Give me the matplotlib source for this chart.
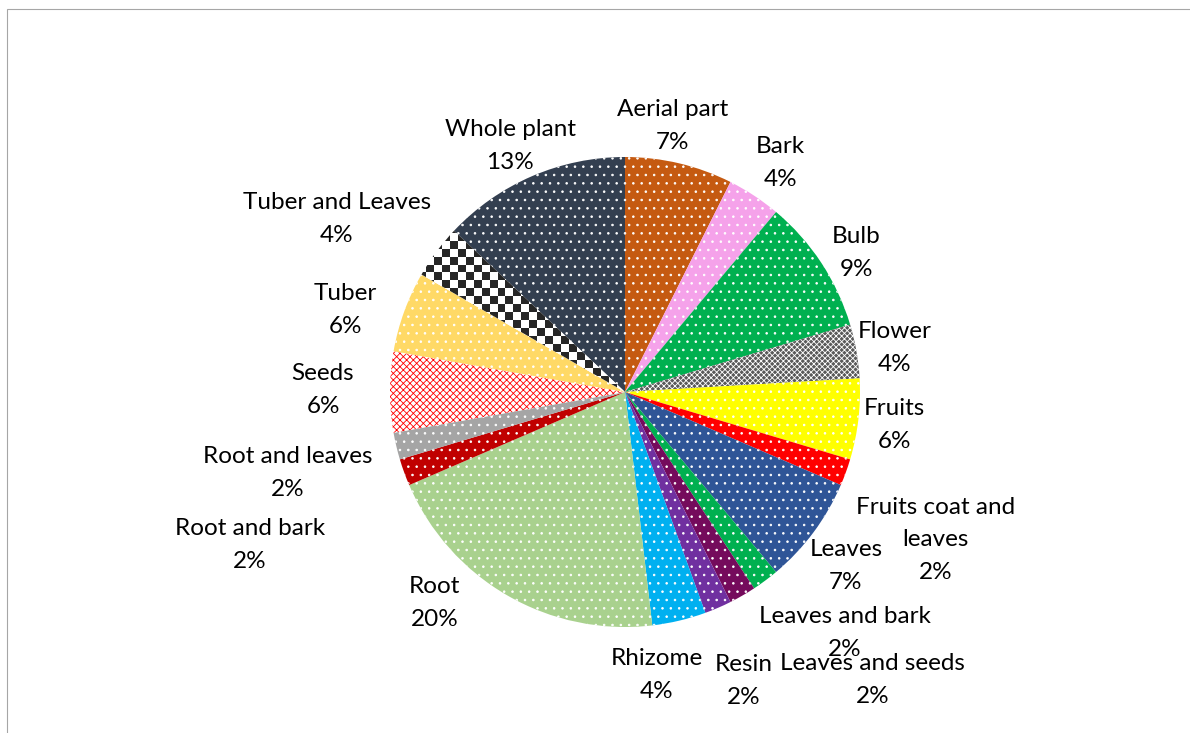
import numpy as np
import matplotlib
matplotlib.use("Agg")
import matplotlib.pyplot as plt
from matplotlib.patches import Rectangle

# Plantdelar (antal), procent visas avrundat
delar = ["Aerial part", "Bark", "Bulb", "Flower", "Fruits",
         "Fruits coat and\nleaves", "Leaves", "Leaves and bark",
         "Leaves and seeds", "Resin", "Rhizome", "Root", "Root and bark",
         "Root and leaves", "Seeds", "Tuber", "Tuber and Leaves", "Whole plant"]
antal = [4, 2, 5, 2, 3, 1, 4, 1, 1, 1, 2, 11, 1, 1, 3, 3, 2, 7]

farger = ["#C55A11", "#F5A2EA", "#00B050", "#5A5A5A", "#FFFF00", "#FF0000",
          "#2F5597", "#00B050", "#750B5C", "#7030A0", "#00B0F0", "#A9D18E",
          "#C00000", "#A5A5A5", "#FFFFFF", "#FFD966", "#FFFFFF", "#333F50"]
# monster (hatch) och hatchfarg per bit
monster = ["..", "..", "..", "xxxxxx", "..", "..", "..", "..", "..", "..", "..",
           "..", "..", "..", "xxxxx", "..", None, ".."]
hatchfarg = ["white"] * 18
hatchfarg[14] = "#FF0000"

# etikettpositioner i radie-enheter
etikett_pos = [(0.204, 1.145), (0.660, 0.987), (0.983, 0.604), (1.149, 0.200),
               (1.145, -0.128), (1.323, -0.617), (0.940, -0.728),
               (0.936, -1.013), (1.055, -1.213), (0.506, -1.217),
               (0.136, -1.191), (-0.809, -0.885), (-1.596, -0.638),
               (-1.434, -0.332), (-1.285, 0.021), (-1.191, 0.362),
               (-1.226, 0.749), (-0.489, 1.060)]

plt.rcParams['hatch.linewidth'] = 0.6
plt.rcParams['font.family'] = ['Lato', 'DejaVu Sans']

W, H = 1190, 733
R = 235.0
cx, cy = 625.0, 392.0

fig = plt.figure(figsize=(W / 100, H / 100), dpi=100)
ax = fig.add_axes([0, 0, 1, 1])

wedges, _ = ax.pie(antal, colors=farger, startangle=90, counterclock=False,
                   wedgeprops=dict(linewidth=0))

for w, m, hc in zip(wedges, monster, hatchfarg):
    w.set_edgecolor(hc)
    w.set_linewidth(0)
    if m:
        w.set_hatch(m)

# schackmonster for "Tuber and Leaves"
n = 62
rad = np.arange(n)
schack = (rad[:, None] + rad[None, :]) % 2
im = ax.imshow(schack, cmap=matplotlib.colors.ListedColormap(["#FFFFFF", "#262626"]),
               extent=(-1.05, 1.05, -1.05, 1.05), interpolation="nearest", zorder=2)
im.set_clip_path(wedges[16])

total = sum(antal)
dy = -3 / R  # liten justering nedat
for namn, v, (x, y) in zip(delar, antal, etikett_pos):
    ax.text(x, y + dy, f"{namn}\n{round(100 * v / total)}%", ha="center", va="center",
            fontsize=17.5, linespacing=1.68, color="#000000")

ax.set_xlim(-cx / R, (W - cx) / R)
ax.set_ylim(-(H - cy) / R, cy / R)
ax.set_aspect('equal')
ax.axis('off')

# ram
fig.patches.append(Rectangle((6.5 / W, -0.1), 1.2, 1 - 9.5 / H + 0.1,
                             transform=fig.transFigure, fill=False,
                             edgecolor="#A6A6A6", linewidth=0.8))

fig.savefig("out.png", dpi=100)
